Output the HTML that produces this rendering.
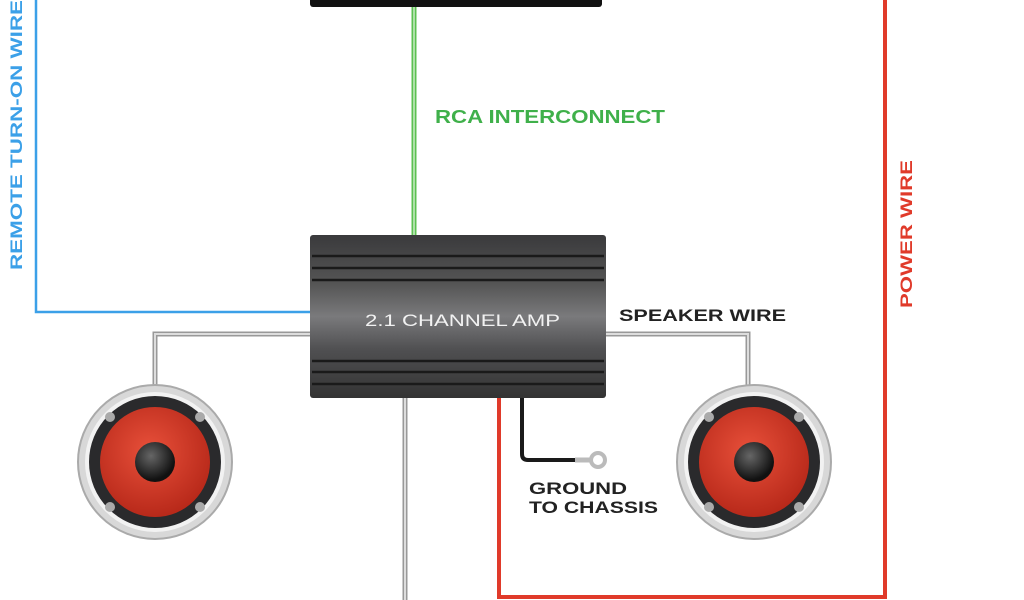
<!DOCTYPE html>
<html><head><style>
html,body{margin:0;padding:0;background:#fff;width:1024px;height:600px;overflow:hidden}
text{font-family:"Liberation Sans",sans-serif;font-weight:bold}
</style></head><body>
<svg width="1024" height="600" viewBox="0 0 1024 600" xmlns="http://www.w3.org/2000/svg">
<defs>
<linearGradient id="amp" x1="0" y1="0" x2="0" y2="1">
<stop offset="0" stop-color="#3a3a3c"/><stop offset="0.3" stop-color="#555"/><stop offset="0.5" stop-color="#7a7a7c"/><stop offset="0.7" stop-color="#505052"/><stop offset="1" stop-color="#333"/>
</linearGradient>
<radialGradient id="cone" cx="0.45" cy="0.4" r="0.6">
<stop offset="0" stop-color="#e8503a"/><stop offset="1" stop-color="#b8291a"/>
</radialGradient>
<radialGradient id="cap" cx="0.4" cy="0.35" r="0.6">
<stop offset="0" stop-color="#666"/><stop offset="1" stop-color="#111"/>
</radialGradient>
<g id="spk">
<circle r="77" fill="#d8d8d8" stroke="#aaa" stroke-width="2"/>
<circle r="70" fill="#f2f2f2"/>
<circle r="66" fill="#2a2a2c"/>
<circle r="55" fill="url(#cone)"/>
<circle r="20" fill="url(#cap)"/>
<circle cx="-45" cy="-45" r="5" fill="#aaa"/><circle cx="45" cy="-45" r="5" fill="#aaa"/>
<circle cx="-45" cy="45" r="5" fill="#aaa"/><circle cx="45" cy="45" r="5" fill="#aaa"/>
</g>
</defs>
<rect x="310" y="-6" width="292" height="13" rx="3" fill="#111"/>
<line x1="414" y1="7" x2="414" y2="236" stroke="#5cc052" stroke-width="5"/>
<line x1="414" y1="7" x2="414" y2="236" stroke="#fff" stroke-width="1"/>
<text x="435" y="123" font-size="18" fill="#3fb04a" textLength="230" lengthAdjust="spacingAndGlyphs">RCA INTERCONNECT</text>
<path d="M36 0 V312 H312" fill="none" stroke="#3ba0e8" stroke-width="2.5"/>
<text transform="translate(22,135) rotate(-90)" text-anchor="middle" font-size="17" fill="#3ba0e8" textLength="270" lengthAdjust="spacingAndGlyphs">REMOTE TURN-ON WIRE</text>
<path d="M885 0 V597 H499 V398" fill="none" stroke="#e03a2a" stroke-width="4"/>
<text transform="translate(912,234) rotate(-90)" text-anchor="middle" font-size="17" fill="#e03a2a" textLength="148" lengthAdjust="spacingAndGlyphs">POWER WIRE</text>
<path d="M312 334 H155 V390" fill="none" stroke="#999" stroke-width="5"/>
<path d="M312 334 H155 V390" fill="none" stroke="#ddd" stroke-width="2"/>
<path d="M604 334 H748 V390" fill="none" stroke="#999" stroke-width="5"/>
<path d="M604 334 H748 V390" fill="none" stroke="#ddd" stroke-width="2"/>
<line x1="405" y1="398" x2="405" y2="600" stroke="#999" stroke-width="5"/>
<line x1="405" y1="398" x2="405" y2="600" stroke="#ddd" stroke-width="2"/>
<text x="619" y="321" font-size="17" fill="#222" textLength="167" lengthAdjust="spacingAndGlyphs">SPEAKER WIRE</text>
<path d="M522 398 V454 Q522 460 528 460 H575" fill="none" stroke="#1a1a1a" stroke-width="4"/>
<line x1="575" y1="460" x2="590" y2="460" stroke="#bbb" stroke-width="5"/>
<circle cx="598" cy="460" r="7" fill="none" stroke="#bbb" stroke-width="4"/>
<text x="529" y="494" font-size="17" fill="#222" textLength="98" lengthAdjust="spacingAndGlyphs">GROUND</text>
<text x="529" y="513" font-size="17" fill="#222" textLength="129" lengthAdjust="spacingAndGlyphs">TO CHASSIS</text>
<rect x="310" y="235" width="296" height="163" rx="3" fill="url(#amp)"/>
<g stroke="#1a1a1a" stroke-width="2.5">
<line x1="312" y1="256" x2="604" y2="256"/><line x1="312" y1="268" x2="604" y2="268"/>
<line x1="312" y1="280" x2="604" y2="280"/>
<line x1="312" y1="361" x2="604" y2="361"/><line x1="312" y1="372" x2="604" y2="372"/>
<line x1="312" y1="384" x2="604" y2="384"/>
</g>
<text x="365" y="326" font-size="17" fill="#f2f2f2" style="font-weight:normal" textLength="195" lengthAdjust="spacingAndGlyphs">2.1 CHANNEL AMP</text>
<use href="#spk" x="155" y="462"/>
<use href="#spk" x="754" y="462"/>
</svg>
</body></html>
